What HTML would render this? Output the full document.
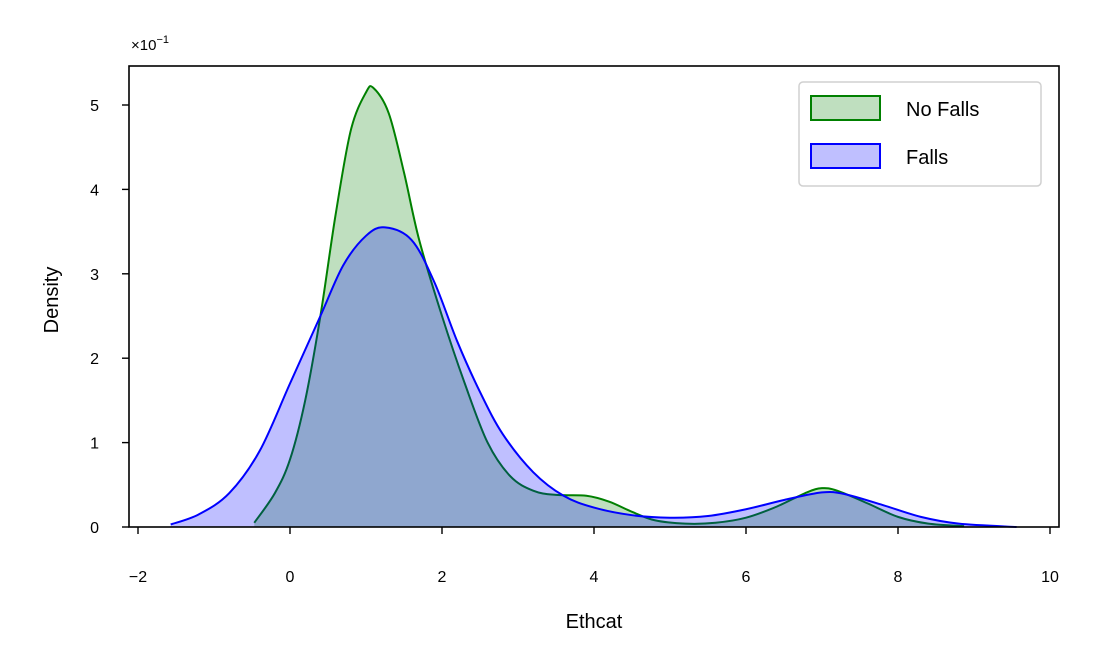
<!DOCTYPE html>
<html><head><meta charset="utf-8"><style>
body{margin:0;background:#fff}
svg{display:block;font-family:"Liberation Sans",Arial,sans-serif}
</style></head><body>
<svg id="chart" width="1098" height="666">
<g id="plot"></g>
<g id="axes"></g>
</svg>
<script>
const xTicks=[-2,0,2,4,6,8,10];
const yTicks=[0,1,2,3,4,5];
const noFallsX=[-0.47,-0.2,0,0.2,0.4,0.6,0.8,1.0,1.1,1.3,1.5,1.7,2.0,2.3,2.6,2.9,3.2,3.5,3.9,4.2,4.5,4.8,5.2,5.6,6.0,6.4,6.8,7.0,7.2,7.6,8.0,8.4,8.87];
const noFallsY=[0.005,0.04,0.08,0.15,0.25,0.37,0.47,0.515,0.52,0.49,0.42,0.34,0.25,0.17,0.10,0.06,0.043,0.038,0.037,0.03,0.018,0.008,0.004,0.005,0.011,0.024,0.041,0.046,0.043,0.028,0.012,0.004,0.001];
const fallsX=[-1.57,-1.2,-0.8,-0.4,0,0.4,0.7,1.0,1.25,1.6,1.9,2.2,2.5,2.8,3.2,3.6,4.0,4.5,5.0,5.5,6.0,6.5,7.0,7.3,7.8,8.3,8.8,9.56];
const fallsY=[0.003,0.015,0.04,0.09,0.17,0.25,0.31,0.345,0.355,0.34,0.29,0.22,0.16,0.11,0.065,0.037,0.023,0.014,0.011,0.013,0.021,0.032,0.041,0.039,0.026,0.012,0.004,0.0];

const L=129,R=1059,T=66,B=527;
const X=v=>290+v*76;
const Y=v=>527-v*844;
const NS='http://www.w3.org/2000/svg';
function mk(tag,attrs,parent){const e=document.createElementNS(NS,tag);for(const k in attrs)e.setAttribute(k,attrs[k]);parent.appendChild(e);return e;}
function smooth(xs,ys){
  const p=xs.map((x,i)=>[X(x),Y(ys[i])]);
  let d='M'+p[0][0]+','+p[0][1];
  for(let i=0;i<p.length-1;i++){
    const p0=p[i-1]||p[i],p1=p[i],p2=p[i+1],p3=p[i+2]||p2;
    const c1=[p1[0]+(p2[0]-p0[0])/6,p1[1]+(p2[1]-p0[1])/6];
    const c2=[p2[0]-(p3[0]-p1[0])/6,p2[1]-(p3[1]-p1[1])/6];
    d+=` C${c1[0]},${c1[1]} ${c2[0]},${c2[1]} ${p2[0]},${p2[1]}`;
  }
  return d;
}
const plot=document.getElementById('plot');
const axes=document.getElementById('axes');
function series(xs,ys,fill,stroke,name){
  const d=smooth(xs,ys);
  const a=mk('path',{d:d+` L${X(xs[xs.length-1])},${Y(0)} L${X(xs[0])},${Y(0)} Z`,fill:fill,stroke:'none'},plot);
  
  
  const l=mk('path',{d:d,fill:'none',stroke:stroke,'stroke-width':2},plot);
  
  
}
series(noFallsX,noFallsY,'rgba(0,128,0,0.25)','#008000','no-falls');
series(fallsX,fallsY,'rgba(0,0,255,0.25)','#0000ff','falls');
const frame=mk('rect',{x:L,y:T,width:R-L,height:B-T,fill:'none',stroke:'#000','stroke-width':1.6},axes);


xTicks.forEach(t=>{
  mk('line',{x1:X(t),x2:X(t),y1:B,y2:B+7,stroke:'#000','stroke-width':1.4},axes);
  const tx=mk('text',{x:X(t),y:B+55,'font-size':16,'text-anchor':'middle'},axes);
  tx.textContent=t<0?'\u2212'+(-t):t;
  
  
});
yTicks.forEach(t=>{
  mk('line',{x1:L,x2:L-7,y1:Y(t/10),y2:Y(t/10),stroke:'#000','stroke-width':1.4},axes);
  const tx=mk('text',{x:L-30,y:Y(t/10)+6,'font-size':16,'text-anchor':'end'},axes);
  tx.textContent=t;
  
  
});
</script>
<svg style="position:absolute;left:0;top:0" width="1098" height="666">
<text x="131" y="50" font-size="15">×10<tspan dy="-7" font-size="11">−1</tspan></text>
<text x="594" y="628" font-size="20" text-anchor="middle">Ethcat</text>
<text transform="translate(58,300) rotate(-90)" font-size="20" text-anchor="middle">Density</text>
<g>
<rect x="799" y="82" width="242" height="104" rx="4" fill="#fff" fill-opacity="0.8" stroke="#d0d0d0" stroke-width="1.5"/>
<g>
<rect x="811" y="96" width="69" height="24" fill="rgba(0,128,0,0.25)" stroke="#008000" stroke-width="2"/>
<text x="906" y="116" font-size="20">No Falls</text></g>
<g>
<rect x="811" y="144" width="69" height="24" fill="rgba(0,0,255,0.25)" stroke="#0000ff" stroke-width="2"/>
<text x="906" y="164" font-size="20">Falls</text></g>
</g>
</svg>
</body></html>
